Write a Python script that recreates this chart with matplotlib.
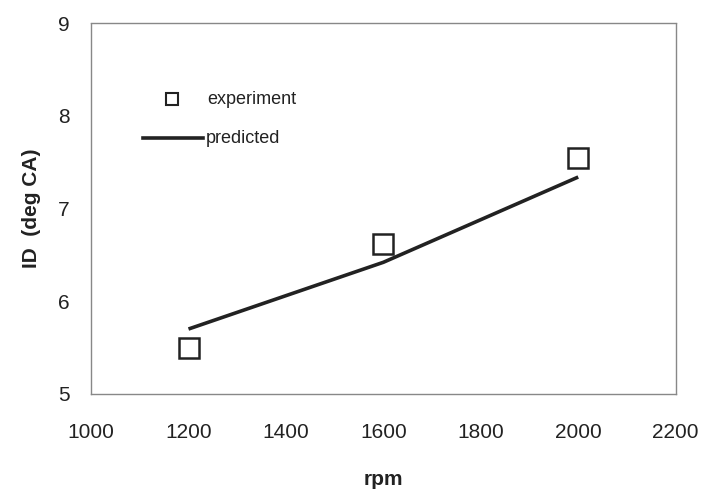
import matplotlib
matplotlib.use('Agg')
import matplotlib.pyplot as plt

plt.rcParams['font.family'] = ['Liberation Sans', 'DejaVu Sans']

# Data
rpm_exp = [1200, 1600, 2000]
id_exp = [5.5, 6.62, 7.54]

rpm_pred = [1200, 1600, 2000]
id_pred = [5.7, 6.42, 7.34]

fig = plt.figure(figsize=(7.06, 4.93), dpi=100)
ax = fig.add_axes([0.129, 0.201, 0.828, 0.752])

ax.plot(rpm_pred, id_pred, color='#222222', lw=2.6, solid_capstyle='butt')
ax.plot(rpm_exp, id_exp, 's', ms=14, mfc='white', mec='#222222', mew=1.8, ls='none')

ax.set_xlim(1000, 2200)
ax.set_ylim(5, 9)
ax.set_xticks([1000, 1200, 1400, 1600, 1800, 2000, 2200])
ax.set_yticks([5, 6, 7, 8, 9])
ax.tick_params(length=0, labelsize=15, colors='#222222')
ax.tick_params(axis='x', pad=21)
ax.tick_params(axis='y', pad=15.5)

for s in ax.spines.values():
    s.set_color('#888888')
    s.set_linewidth(1.0)
    s.set_linestyle((0, (3, 1)))

ax.set_xlabel('rpm', fontsize=15, fontweight='bold', color='#222222', labelpad=20)
ax.set_ylabel('ID  (deg CA)', fontsize=15, fontweight='bold', color='#222222', labelpad=12)

# Hand-made legend, as in the original
ax.plot([0.139], [0.795], 's', ms=8, mfc='white', mec='#222222', mew=1.5,
        transform=ax.transAxes, clip_on=False)
ax.text(0.199, 0.795, 'experiment', transform=ax.transAxes, fontsize=13,
        va='center', ha='left', color='#222222')
ax.plot([0.089, 0.192], [0.689, 0.689], color='#222222', lw=2.6,
        transform=ax.transAxes)
ax.text(0.196, 0.689, 'predicted', transform=ax.transAxes, fontsize=13,
        va='center', ha='left', color='#222222')

fig.savefig('out.png', dpi=100)
